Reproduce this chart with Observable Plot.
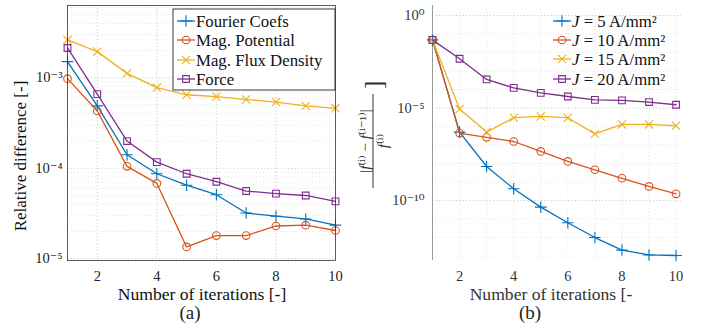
<!DOCTYPE html>
<html><head><meta charset="utf-8">
<script src="https://cdn.jsdelivr.net/npm/d3@7"></script>
<script src="https://cdn.jsdelivr.net/npm/@observablehq/plot@0.6"></script>
<style>
body{margin:0;background:#fff;}
#wrap{position:relative;width:715px;height:332px;overflow:hidden;font-family:"Liberation Serif","DejaVu Serif",serif;color:#222;}
.panel{position:absolute;top:0;}
.cap{position:absolute;top:302px;font-size:19px;width:60px;text-align:center;}
</style></head><body>
<div id="wrap">
  <div id="pa" class="panel" style="left:0px"></div>
  <div id="pb" class="panel" style="left:360px"></div>
  <div class="cap" style="left:160px">(a)</div>
  <div class="cap" style="left:500px">(b)</div>
</div>
<script>
// ---------- data ----------
const iterations = [1, 2, 3, 4, 5, 6, 7, 8, 9, 10];
const xTicks = [2, 4, 6, 8, 10];

// panel (a): relative difference
const seriesA = ["Fourier Coefs", "Mag. Potential", "Mag. Flux Density", "Force"];
const fourierCoefs    = [1.51e-3, 4.9e-4, 1.41e-4, 8.7e-5, 6.5e-5, 5.1e-5, 3.2e-5, 2.95e-5, 2.75e-5, 2.35e-5];
const magPotential    = [9.8e-4, 4.3e-4, 1.05e-4, 6.8e-5, 1.35e-5, 1.8e-5, 1.8e-5, 2.3e-5, 2.35e-5, 2.05e-5];
const magFluxDensity  = [2.63e-3, 1.95e-3, 1.12e-3, 7.8e-4, 6.5e-4, 6.2e-4, 5.75e-4, 5.4e-4, 4.9e-4, 4.6e-4];
const force           = [2.14e-3, 6.6e-4, 2.0e-4, 1.17e-4, 8.7e-5, 7.1e-5, 5.6e-5, 5.25e-5, 5.0e-5, 4.3e-5];
const yTicksA = [1e-5, 1e-4, 1e-3];
const yDomainA = [10 ** -5.02, 10 ** -2.2];

// panel (b): |f(i) - f(i-1)| / f(i)
const seriesB = ["J=5", "J=10", "J=15", "J=20"];
const j5  = [4.8e-2, 5e-7, 6.9e-9, 4.3e-10, 4.4e-11, 6.3e-12, 1e-12, 2.1e-13, 1.15e-13, 1.07e-13];
const j10 = [4.8e-2, 4.4e-7, 2.6e-7, 1.55e-7, 4.5e-8, 1.3e-8, 4.6e-9, 1.6e-9, 5.8e-10, 2.3e-10];
const j15 = [4.8e-2, 8.9e-6, 5e-7, 3e-6, 3.5e-6, 3e-6, 4e-7, 1.3e-6, 1.3e-6, 1.1e-6];
const j20 = [4.8e-2, 4.6e-3, 3.5e-4, 1.23e-4, 6.6e-5, 4.2e-5, 2.75e-5, 2.6e-5, 2.1e-5, 1.5e-5];
const legendB = ["5", "10", "15", "20"];
const yTicksB = [1e-10, 1e-5, 1];
const yDomainB = [10 ** -13.24, 10 ** 0.54];
const xDomainB = [1, 10.2];

const colors = ["#0072BD", "#D95319", "#EDB120", "#7E2F8E"];
const symbols = ["plus", "circle", "times", "square"];
const d3sym = {plus: d3.symbolPlus, circle: d3.symbolCircle, times: d3.symbolTimes, square: d3.symbolSquare};

// ---------- helpers ----------
const FONT = "Liberation Serif, DejaVu Serif, serif";
const R = 3.8;
const supMap = {"-": "\u207B", "0": "\u2070", "1": "\u00B9", "2": "\u00B2", "3": "\u00B3", "4": "\u2074", "5": "\u2075", "6": "\u2076", "7": "\u2077", "8": "\u2078", "9": "\u2079"};
const sup = d => "10" + String(Math.round(Math.log10(d))).replace(/./g, c => supMap[c]);

function rows(names, arrays) {
  return arrays.flatMap((arr, i) => arr.map((v, k) => ({series: names[i], x: iterations[k], y: v})));
}
const dataA = rows(seriesA, [fourierCoefs, magPotential, magFluxDensity, force]);
const dataB = rows(seriesB, [j5, j10, j15, j20]);

function seriesMarks(data, names) {
  return names.flatMap((name, i) => [
    Plot.line(data.filter(d => d.series === name), {x: "x", y: "y", stroke: colors[i], strokeWidth: 1.3}),
    Plot.dot(data.filter(d => d.series === name), {x: "x", y: "y", stroke: colors[i], fill: "none", symbol: symbols[i], r: R, strokeWidth: 1.1})
  ]);
}

const minorA = d3.range(-6, -1).flatMap(e => d3.range(2, 10).map(m => m * 10 ** e)).filter(v => v > yDomainA[0] && v < yDomainA[1]);
const decadesB = d3.range(-13, 1).map(e => 10 ** e).filter(v => !yTicksB.includes(v));
const gridStyle = {stroke: "#bdbdbd", strokeDasharray: "1.2,2.2", strokeWidth: 0.8};
const minorStyle = {stroke: "#d6d6d6", strokeDasharray: "1,2.5", strokeWidth: 0.7};

// ---------- panel (a) ----------
const plotA = Plot.plot({
  width: 360, height: 300,
  marginLeft: 67, marginRight: 25, marginTop: 5, marginBottom: 40,
  style: "font-size:14.5px;color:#222;background:transparent;overflow:visible;",
  x: {domain: [1, 10], ticks: xTicks, tickSize: 0, tickPadding: 10, label: null},
  y: {type: "log", domain: yDomainA, ticks: yTicksA, tickFormat: sup, tickSize: 0, tickPadding: 5, label: null},
  marks: [
    Plot.ruleY(minorA, minorStyle),
    Plot.ruleY(yTicksA, gridStyle),
    Plot.ruleX(xTicks.slice(0, -1), gridStyle),
    ...seriesMarks(dataA, seriesA),
    Plot.frame({stroke: "#333", strokeWidth: 0.8})
  ]
});
document.getElementById("pa").appendChild(plotA);

// ---------- panel (b) ----------
const plotB = Plot.plot({
  width: 355, height: 300,
  marginLeft: 72, marginRight: 34, marginTop: 5, marginBottom: 40,
  style: "font-size:14.5px;color:#333;background:transparent;overflow:visible;",
  x: {domain: xDomainB, ticks: xTicks, tickSize: 0, tickPadding: 10, label: null},
  y: {type: "log", domain: yDomainB, ticks: yTicksB, tickFormat: sup, tickSize: 0, tickPadding: 8, label: null},
  marks: [
    Plot.ruleY(decadesB, minorStyle),
    Plot.ruleY(yTicksB, gridStyle),
    Plot.ruleX(iterations.slice(1), minorStyle),
    Plot.ruleX(xDomainB.slice(0, 1), {stroke: "#9a9a9a", strokeWidth: 1}),
    ...seriesMarks(dataB, seriesB)
  ]
});
document.getElementById("pb").appendChild(plotB);

// ---------- overlays: legends and axis titles ----------
function legend(svg, names, x0, y0s, box, fontSize, labelFn) {
  const g = d3.select(svg).append("g").attr("text-anchor", "start");
  if (box) g.append("rect").attr("x", box[0]).attr("y", box[1]).attr("width", box[2]).attr("height", box[3])
    .attr("fill", "#fff").attr("stroke", "#222").attr("stroke-width", 0.9);
  names.forEach((name, i) => {
    const y = y0s[i];
    g.append("line").attr("x1", x0).attr("x2", x0 + 18).attr("y1", y).attr("y2", y)
      .attr("stroke", colors[i]).attr("stroke-width", 1.3);
    g.append("path").attr("transform", `translate(${x0 + 9},${y})`)
      .attr("d", d3.symbol(d3sym[symbols[i]], Math.PI * R * R)())
      .attr("fill", "none").attr("stroke", colors[i]).attr("stroke-width", 1.1);
    const t = g.append("text").attr("x", x0 + 19).attr("y", y).attr("dy", "0.35em")
      .attr("text-anchor", "start").attr("font-size", fontSize).attr("fill", "#111");
    labelFn(t, name, i);
  });
}
legend(plotA, seriesA, 177, [21, 40, 60, 79], [173, 9, 162, 81], 16.8, (t, name) => t.text(name));
legend(plotB, legendB, 193, [21, 40, 59, 79], null, 16.8, (t, v) => {
  t.append("tspan").attr("font-style", "italic").text("J");
  t.append("tspan").text(" = " + v + " A/mm\u00B2");
});

// axis titles
const ga = d3.select(plotA).append("g").attr("fill", "#111");
ga.append("text").attr("transform", "translate(26,156) rotate(-90)").attr("text-anchor", "middle")
  .attr("font-size", 17).text("Relative difference [-]");
ga.append("text").attr("x", 202).attr("y", 300).attr("text-anchor", "middle").attr("font-size", 17.6)
  .text("Number of iterations [-]");

const gb = d3.select(plotB).append("g").attr("fill", "#333");
gb.append("text").attr("x", 191).attr("y", 300).attr("text-anchor", "middle").attr("font-size", 17.6)
  .text("Number of iterations [-");
const frac = gb.append("g").attr("transform", "translate(13,141) rotate(-90)");
frac.append("line").attr("x1", -47).attr("x2", 47).attr("y1", 0).attr("y2", 0).attr("stroke", "#333").attr("stroke-width", 1);
const num = frac.append("text").attr("x", 0).attr("y", -3).attr("text-anchor", "middle").attr("font-size", 15);
num.append("tspan").text("|");
num.append("tspan").attr("font-style", "italic").text("f");
num.append("tspan").text("\u207D\u2071\u207E \u2212 ");
num.append("tspan").attr("font-style", "italic").text("f");
num.append("tspan").text("\u207D\u2071\u207B\u00B9\u207E|");
const den = frac.append("text").attr("x", 0).attr("y", 15).attr("text-anchor", "middle").attr("font-size", 15);
den.append("tspan").attr("font-style", "italic").text("f");
den.append("tspan").text("\u207D\u2071\u207E");
frac.append("text").attr("x", 56).attr("y", 9).attr("text-anchor", "middle").attr("font-size", 26).text("]");

// serif font on every SVG text
d3.selectAll("#wrap svg").attr("font-family", FONT).style("font-family", FONT);
d3.selectAll("#wrap svg text, #wrap svg tspan").attr("font-family", FONT).style("font-family", FONT);
</script>
</body></html>
